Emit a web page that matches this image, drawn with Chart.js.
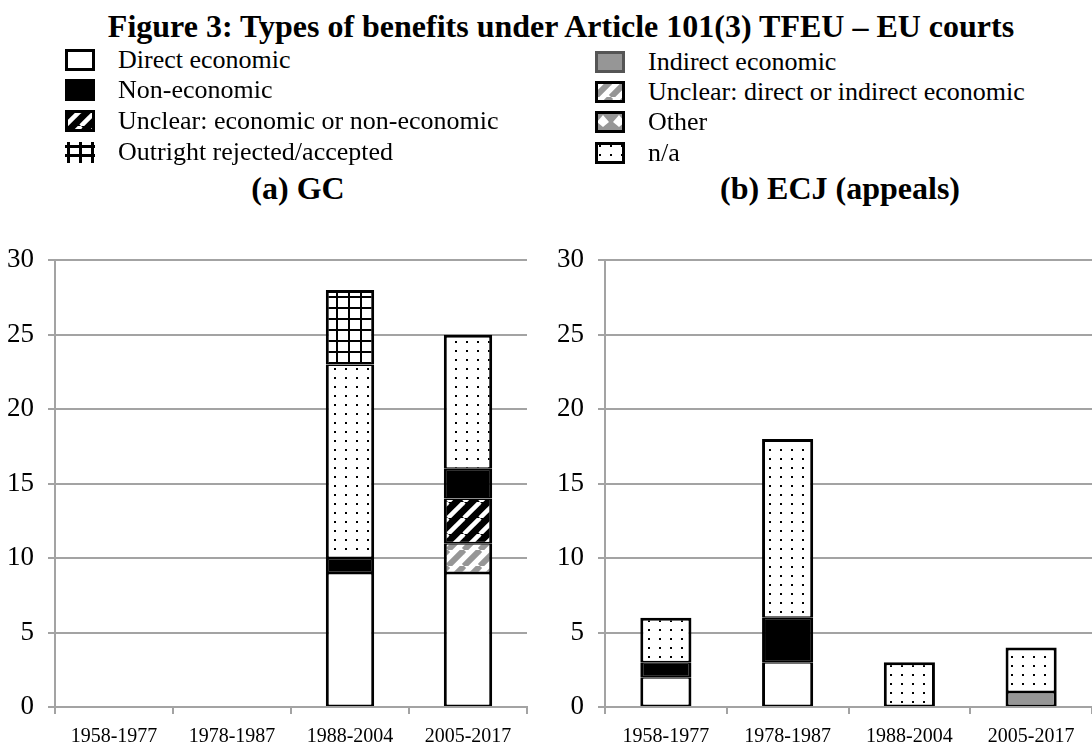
<!DOCTYPE html>
<html>
<head>
<meta charset="utf-8">
<script src="https://cdn.jsdelivr.net/npm/chart.js@4.4.1/dist/chart.umd.min.js"></script>
<style>
  body { margin: 0; background: #fff; }
  #page { position: relative; width: 1092px; height: 747px; overflow: hidden; font-family: "Liberation Serif", "Times New Roman", serif; color: #000; }
  .title { position: absolute; font-weight: bold; white-space: nowrap; transform: translate(-50%, -50%); }
  .legItem { position: absolute; height: 30px; display: flex; align-items: center; font-size: 26px; white-space: nowrap; }
  .legItem canvas { margin-right: 23px; }
  canvas.chart { position: absolute; }
</style>
</head>
<body>
<div id="page">
  <div class="title" style="left:561px; top:26px; font-size:32px;">Figure 3: Types of benefits under Article 101(3) TFEU – EU courts</div>
  <div id="legend"></div>
  <div class="title" style="left:298px; top:188px; font-size:32px;">(a) GC</div>
  <div class="title" style="left:840px; top:188px; font-size:32px;">(b) ECJ (appeals)</div>
  <canvas id="gcChart" class="chart" width="545" height="517" style="left:0; top:230px;"></canvas>
  <canvas id="ecjChart" class="chart" width="547" height="517" style="left:545px; top:230px;"></canvas>
</div>
<script>
// Periods
const categories = ['1958-1977', '1978-1987', '1988-2004', '2005-2017'];

// Benefit types (stacking order bottom to top)
const seriesNames = [
    'Direct economic',
    'Indirect economic',
    'Unclear: direct or indirect economic',
    'Unclear: economic or non-economic',
    'Non-economic',
    'Other',
    'n/a',
    'Outright rejected/accepted'
];

// (a) GC
const gcDirect        = [0, 0, 9, 9];
const gcIndirect      = [0, 0, 0, 0];
const gcUnclearDI     = [0, 0, 0, 2];
const gcUnclearENE    = [0, 0, 0, 3];
const gcNonEconomic   = [0, 0, 1, 2];
const gcOther         = [0, 0, 0, 0];
const gcNA            = [0, 0, 13, 9];
const gcOutright      = [0, 0, 5, 0];

// (b) ECJ (appeals)
const ecjDirect       = [2, 3, 0, 0];
const ecjIndirect     = [0, 0, 0, 1];
const ecjUnclearDI    = [0, 0, 0, 0];
const ecjUnclearENE   = [0, 0, 0, 0];
const ecjNonEconomic  = [1, 3, 0, 0];
const ecjOther        = [0, 0, 0, 0];
const ecjNA           = [3, 12, 3, 3];
const ecjOutright     = [0, 0, 0, 0];

const yTicks = [0, 5, 10, 15, 20, 25, 30];

const FONT = '"Liberation Serif", "Times New Roman", serif';
const GRID = '#a3a3a3';
const GREY = '#969696';

// Fill patterns
function tile(w, h, paint) {
    const c = document.createElement('canvas');
    c.width = w; c.height = h;
    const g = c.getContext('2d');
    paint(g, w, h);
    return g.createPattern(c, 'repeat');
}

function stripes(bg, fg, lw) {
    return tile(16, 16, (g, s) => {
        g.fillStyle = bg; g.fillRect(0, 0, s, s);
        g.strokeStyle = fg; g.lineWidth = lw;
        for (let k = -1; k <= 1; k++) {
            g.beginPath(); g.moveTo(k * s, s); g.lineTo(k * s + s, 0); g.stroke();
        }
    });
}

const fills = [
    '#ffffff',
    GREY,
    stripes('#ffffff', GREY, 6),
    stripes('#000000', '#ffffff', 4.5),
    '#000000',
    tile(16, 16, (g) => {
        g.fillStyle = GREY; g.fillRect(0, 0, 16, 16);
        g.fillStyle = '#fff';
        g.beginPath(); g.moveTo(8, 4); g.lineTo(14, 11); g.lineTo(8, 16); g.lineTo(2, 11); g.closePath(); g.fill();
    }),
    tile(11, 9, (g) => {
        g.fillStyle = '#fff'; g.fillRect(0, 0, 11, 9);
        g.fillStyle = '#000'; g.fillRect(4, 3, 2, 2);
    }),
    tile(12, 11, (g) => {
        g.fillStyle = '#fff'; g.fillRect(0, 0, 12, 11);
        g.fillStyle = '#000'; g.fillRect(0, 0, 12, 2); g.fillRect(0, 0, 2, 11);
    })
];

// Legend
const legendPos = [
    [65, 45], [65, 75], [65, 106], [65, 137],
    [595, 47], [595, 77], [595, 107], [595, 138]
];
const legendOrder = [0, 4, 3, 7, 1, 2, 5, 6];
const legend = document.getElementById('legend');
legendOrder.forEach((si, i) => {
    const item = document.createElement('div');
    item.className = 'legItem';
    item.style.left = legendPos[i][0] + 'px';
    item.style.top = legendPos[i][1] + 'px';
    const sw = document.createElement('canvas');
    sw.width = 30; sw.height = 22;
    const g = sw.getContext('2d');
    if (si === 7) {
        g.fillStyle = '#000';
        [2, 14, 26].forEach(x => g.fillRect(x, 1, 3, 21));
        [4, 13].forEach(y => g.fillRect(0, y, 30, 3));
    } else {
        g.fillStyle = fills[si]; g.fillRect(0, 0, 30, 22);
        g.strokeStyle = si === 1 ? '#555' : '#000'; g.lineWidth = 3;
        g.strokeRect(1.5, 1.5, 27, 19);
    }
    item.appendChild(sw);
    item.appendChild(document.createTextNode(seriesNames[si]));
    legend.appendChild(item);
});

function isTopSegment(ctx) {
    const ds = ctx.chart.data.datasets;
    for (let k = ctx.datasetIndex + 1; k < ds.length; k++) {
        if (ds[k].data[ctx.dataIndex] > 0) return false;
    }
    return true;
}

function makeChart(id, series, barPct, yWidth, padRight) {
    return new Chart(document.getElementById(id), {
        type: 'bar',
        data: {
            labels: categories,
            datasets: series.map((vals, i) => ({
                label: seriesNames[i],
                data: vals,
                backgroundColor: fills[i],
                borderColor: '#000',
                borderSkipped: false,
                borderWidth: (ctx) => ({ left: 3, right: 3, bottom: 1.5, top: isTopSegment(ctx) ? 3 : 1.5 }),
                barPercentage: barPct,
                categoryPercentage: 1
            }))
        },
        options: {
            responsive: false,
            animation: false,
            layout: { padding: { top: 24, right: padRight, left: 0, bottom: 0 } },
            plugins: { legend: { display: false }, tooltip: { enabled: false } },
            scales: {
                x: {
                    stacked: true,
                    grid: { drawOnChartArea: false, offset: true, color: GRID, lineWidth: 2, tickLength: 7 },
                    border: { color: GRID, width: 2 },
                    ticks: { color: '#000', font: { family: FONT, size: 20 }, padding: 11, maxRotation: 0 },
                    afterFit: (s) => { s.height = 40; }
                },
                y: {
                    stacked: true,
                    min: yTicks[0],
                    max: yTicks[yTicks.length - 1],
                    afterBuildTicks: (s) => { s.ticks = yTicks.map(v => ({ value: v })); },
                    grid: { color: GRID, lineWidth: 2, tickLength: 7 },
                    border: { color: GRID, width: 2 },
                    ticks: { color: '#000', font: { family: FONT, size: 27 }, padding: 14 },
                    afterFit: (s) => { s.width = yWidth; }
                }
            }
        }
    });
}

makeChart('gcChart',
    [gcDirect, gcIndirect, gcUnclearDI, gcUnclearENE, gcNonEconomic, gcOther, gcNA, gcOutright],
    0.41, 55, 18);
makeChart('ecjChart',
    [ecjDirect, ecjIndirect, ecjUnclearDI, ecjUnclearENE, ecjNonEconomic, ecjOther, ecjNA, ecjOutright],
    0.42, 60, 0);
</script>
</body>
</html>
